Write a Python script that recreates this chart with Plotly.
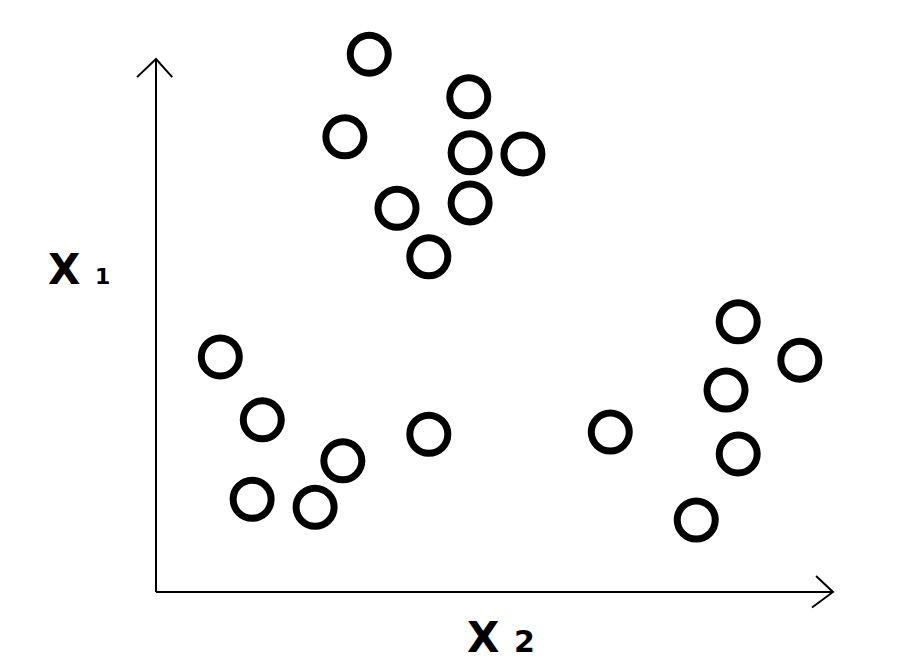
import plotly.graph_objects as go

# data (x2 horizontal, x1 vertical)
x2_values = [3.15, 4.62, 2.79, 4.64, 5.42, 3.56, 4.64, 4.03,
             0.95, 1.57, 4.03, 2.76, 1.42, 2.35,
             6.71, 8.60, 9.51, 8.42, 8.60, 7.98]
x1_values = [10.09, 9.29, 8.54, 8.24, 8.22, 7.20, 7.30, 6.29,
             4.41, 3.23, 2.96, 2.46, 1.74, 1.59,
             3.00, 5.07, 4.35, 3.79, 2.59, 1.35]
axis_end_x = 10.0
axis_end_y = 10.0

fig = go.Figure()
fig.add_trace(go.Scatter(
    x=x2_values, y=x1_values, mode="markers",
    marker=dict(size=38, color="rgba(0,0,0,0)", line=dict(color="black", width=7)),
    hoverinfo="skip", showlegend=False,
))

line_style = dict(color="black", width=2)
# axes lines
fig.add_shape(type="line", x0=0, y0=0, x1=axis_end_x, y1=0, line=line_style, xref="x", yref="y")
fig.add_shape(type="line", x0=0, y0=0, x1=0, y1=axis_end_y, line=line_style, xref="x", yref="y")
# arrowheads (open chevrons)
fig.add_shape(type="path", xref="x", yref="y", line=line_style,
              path=f"M {-0.28} {axis_end_y-0.34} L 0 {axis_end_y} L {0.24} {axis_end_y-0.34}")
fig.add_shape(type="path", xref="x", yref="y", line=line_style,
              path=f"M {axis_end_x-0.25} {0.30} L {axis_end_x} 0 L {axis_end_x-0.31} {-0.29}")

label_font = dict(family="DejaVu Sans", size=42, color="black", weight="bold")
fig.add_annotation(x=-1.13, y=6.05, xref="x", yref="y", showarrow=False,
                   text="X <span style='font-size:22px'>1</span>", font=label_font)
fig.add_annotation(x=5.10, y=-0.85, xref="x", yref="y", showarrow=False,
                   text="X <span style='font-size:30px'>2</span>", font=label_font)

fig.update_layout(
    width=900, height=665,
    margin=dict(l=0, r=0, t=0, b=0),
    paper_bgcolor="white", plot_bgcolor="white",
    xaxis=dict(range=[-2.186, 11.108], visible=False, showgrid=False, zeroline=False),
    yaxis=dict(range=[-1.52, 10.957], visible=False, showgrid=False, zeroline=False),
)
fig.write_html("out.html")
